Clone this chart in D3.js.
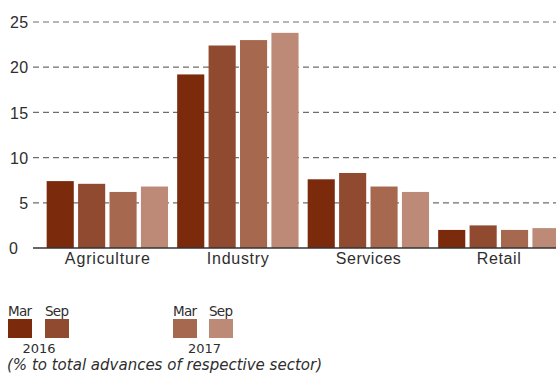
<!DOCTYPE html>
<html>
<head>
<meta charset="utf-8">
<script src="https://cdn.jsdelivr.net/npm/d3@7"></script>
<style>
  html, body { margin: 0; padding: 0; background: #fff; }
  svg { display: block; font-family: "DejaVu Sans", "Noto Sans", sans-serif; }
</style>
</head>
<body>
<svg id="chart" width="556" height="374"></svg>
<script>
// Sector shares, % of total advances of each sector
const sectors = ["Agriculture", "Industry", "Services", "Retail"];
const periods = ["Mar 2016", "Sep 2016", "Mar 2017", "Sep 2017"];
const mar2016 = [7.4, 19.2, 7.6, 2.0];
const sep2016 = [7.1, 22.4, 8.3, 2.5];
const mar2017 = [6.2, 23.0, 6.8, 2.0];
const sep2017 = [6.8, 23.8, 6.2, 2.2];
const yTicks = [0, 5, 10, 15, 20, 25];
const colors = ["#7c2a0c", "#8f4a30", "#a6694f", "#bd8a78"];

const series = [mar2016, sep2016, mar2017, sep2017];

const svg = d3.select("#chart");
const textColor = "#2e2e2e";

// Widen a text run evenly to a given length (the house face is a wide sans)
function spreadTo(sel, width) {
  sel.attr("textLength", width).attr("lengthAdjust", "spacing");
}

const y = d3.scaleLinear().domain([0, 25]).range([248, 22]);
const x0 = d3.scaleBand().domain(sectors).range([42.1, 564.1])
  .paddingInner(0.07).paddingOuter(0.035);
const x1 = d3.scaleBand().domain(periods).range([0, x0.bandwidth()])
  .paddingInner(0.137).paddingOuter(0);
const color = d3.scaleOrdinal().domain(periods).range(colors);

// Dashed gridlines with labels on the left
svg.append("g").selectAll("line").data(yTicks.filter(d => d > 0)).join("line")
  .attr("x1", 33).attr("x2", 556)
  .attr("y1", d => y(d)).attr("y2", d => y(d))
  .attr("stroke", "#6e6e6e").attr("stroke-width", 1.2)
  .attr("stroke-dasharray", "6,4");
const yAxis = d3.axisLeft(y).tickValues(yTicks).tickSize(0).tickPadding(0);
const ga = svg.append("g").attr("transform", "translate(28.5,0)").call(yAxis);
ga.select(".domain").remove();
ga.selectAll("text").attr("fill", textColor).style("font-size", "16px")
  .attr("dy", "0.36em")
  .style("letter-spacing", "0.4px");
// the zero label sits further left, flush with the column start
ga.selectAll(".tick").filter(d => d === 0).select("text")
  .attr("text-anchor", "start").attr("x", -19.5);

// Bars
const groups = svg.append("g").selectAll("g").data(sectors).join("g")
  .attr("transform", d => `translate(${x0(d)},0)`);
groups.selectAll("rect").data((d, i) => periods.map((p, j) => ({ p, v: series[j][i] })))
  .join("rect")
  .attr("x", d => x1(d.p))
  .attr("width", x1.bandwidth())
  .attr("y", d => y(d.v))
  .attr("height", d => y(0) - y(d.v))
  .attr("fill", d => color(d.p));

// Baseline
svg.append("line")
  .attr("x1", 33).attr("x2", 556).attr("y1", y(0)).attr("y2", y(0))
  .attr("stroke", "#333").attr("stroke-width", 1.5);

// Category labels
const labelWidths = { Agriculture: 85, Industry: 62, Services: 65, Retail: 44 };
const xAxis = d3.axisBottom(x0).tickSize(0).tickPadding(0);
const gx = svg.append("g").attr("transform", `translate(0,${y(0)})`).call(xAxis);
gx.select(".domain").remove();
gx.selectAll("text").attr("fill", textColor).style("font-size", "16px")
  .attr("y", 16).attr("dy", null)
  .each(function (d) { spreadTo(d3.select(this), labelWidths[d]); });

// Legend
const legendItems = [
  { label: "Mar", p: periods[0], x: 8 },
  { label: "Sep", p: periods[1], x: 45 },
  { label: "Mar", p: periods[2], x: 173 },
  { label: "Sep", p: periods[3], x: 209 }
];
const lg = svg.append("g");
lg.selectAll("rect").data(legendItems).join("rect")
  .attr("x", d => d.x).attr("y", 319).attr("width", 24).attr("height", 19)
  .attr("fill", d => color(d.p));
lg.selectAll("text.m").data(legendItems).join("text")
  .attr("class", "m")
  .attr("x", d => d.x).attr("y", 316)
  .attr("fill", textColor).style("font-size", "13.5px")
  .each(function () { spreadTo(d3.select(this), 24); })
  .text(d => d.label);
lg.selectAll("text.yr").data([{ t: "2016", x: 39 }, { t: "2017", x: 204.5 }]).join("text")
  .attr("class", "yr")
  .attr("x", d => d.x).attr("y", 353).attr("text-anchor", "middle")
  .attr("fill", textColor).style("font-size", "13px")
  .each(function () { spreadTo(d3.select(this), 33); })
  .text(d => d.t);
svg.append("text")
  .attr("x", 7).attr("y", 369.5)
  .attr("fill", textColor).style("font-size", "15px").style("font-style", "italic")
  .call(spreadTo, 315)
  .text("(% to total advances of respective sector)");
</script>
</body>
</html>
